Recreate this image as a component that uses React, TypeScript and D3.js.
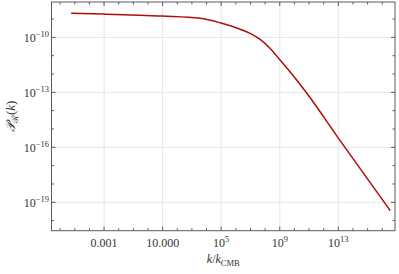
import { scaleLog, line, curveMonotoneX, range } from "d3";

// curve: k / k_CMB and P_R(k)
const kValues = [5.6e-6, 8.9e-4, 9.5, 3.6e3, 8.3e4, 6.8e5, 9.3e6, 4.6e7, 2.2e8, 1.05e9, 5.0e9, 7.1e10, 1.0e13, 3.5e16];
const pValues = [2.04e-9, 1.86e-9, 1.45e-9, 1.1e-9, 6.3e-10, 3.8e-10, 1.66e-10, 7.8e-11, 2.5e-11, 5.75e-12, 1.32e-12, 8.9e-14, 3.2e-16, 3.5e-20];

const xTickExps = [-3, 1, 5, 9, 13];
const xTickLabels = [
  { base: "0.001", sup: "" },
  { base: "10.000", sup: "" },
  { base: "10", sup: "5" },
  { base: "10", sup: "9" },
  { base: "10", sup: "13" },
];
const yTickExps = [-10, -13, -16, -19];

const W = 399;
const H = 274;
const margin = { left: 51.5, right: 4, top: 2, bottom: 43.3 };
const font = "'Liberation Serif', 'DejaVu Serif', serif";
const frameColor = "#5a5a5a";
const gridColor = "#e6e6e6";
const curveColor = "#b00c0c";

export default function App() {
  const x = scaleLog()
    .domain([Math.pow(10, -6.59), Math.pow(10, 16.87)])
    .range([margin.left, W - margin.right]);
  const y = scaleLog()
    .domain([Math.pow(10, -20.55), Math.pow(10, -8.07)])
    .range([H - margin.bottom, margin.top]);

  const pts = kValues.map((k, i) => [x(k), y(pValues[i])] as [number, number]);
  const path = line().curve(curveMonotoneX)(pts) ?? "";

  const x0 = margin.left;
  const x1 = W - margin.right;
  const y0 = margin.top;
  const y1 = H - margin.bottom;

  const xMinor = range(-6, 17).filter((e) => !xTickExps.includes(e));
  const yMinor = range(-20, -8).filter((e) => !yTickExps.includes(e));

  return (
    <svg
      width={W}
      height={H}
      style={{ position: "absolute", left: 0, top: 0, background: "#fff" }}
      fontFamily={font}
    >
      {/* grid */}
      {xTickExps.map((e) => (
        <line key={`gx${e}`} x1={x(10 ** e)} x2={x(10 ** e)} y1={y0} y2={y1} stroke={gridColor} strokeWidth={1} />
      ))}
      {yTickExps.map((e) => (
        <line key={`gy${e}`} x1={x0} x2={x1} y1={y(10 ** e)} y2={y(10 ** e)} stroke={gridColor} strokeWidth={1} />
      ))}

      {/* curve */}
      <path d={path} fill="none" stroke={curveColor} strokeWidth={1.5} />

      {/* frame */}
      <rect x={x0} y={y0} width={x1 - x0} height={y1 - y0} fill="none" stroke={frameColor} strokeWidth={1} />

      {/* ticks, pointing inward on all four sides */}
      {xTickExps.map((e) => (
        <g key={`tx${e}`} stroke={frameColor}>
          <line x1={x(10 ** e)} x2={x(10 ** e)} y1={y1} y2={y1 - 4} />
          <line x1={x(10 ** e)} x2={x(10 ** e)} y1={y0} y2={y0 + 4} />
        </g>
      ))}
      {xMinor.map((e) => (
        <g key={`mx${e}`} stroke={frameColor}>
          <line x1={x(10 ** e)} x2={x(10 ** e)} y1={y1} y2={y1 - 2.5} />
          <line x1={x(10 ** e)} x2={x(10 ** e)} y1={y0} y2={y0 + 2.5} />
        </g>
      ))}
      {yTickExps.map((e) => (
        <g key={`ty${e}`} stroke={frameColor}>
          <line x1={x0} x2={x0 + 4} y1={y(10 ** e)} y2={y(10 ** e)} />
          <line x1={x1} x2={x1 - 4} y1={y(10 ** e)} y2={y(10 ** e)} />
        </g>
      ))}
      {yMinor.map((e) => (
        <g key={`my${e}`} stroke={frameColor}>
          <line x1={x0} x2={x0 + 2.5} y1={y(10 ** e)} y2={y(10 ** e)} />
          <line x1={x1} x2={x1 - 2.5} y1={y(10 ** e)} y2={y(10 ** e)} />
        </g>
      ))}

      {/* x tick labels */}
      {xTickExps.map((e, i) => (
        <text key={`lx${e}`} x={x(10 ** e)} y={247} textAnchor="middle" fontSize={12} fill="#333">
          {xTickLabels[i].base}
          {xTickLabels[i].sup && (
            <tspan dy={-5} fontSize={8.5}>
              {xTickLabels[i].sup}
            </tspan>
          )}
        </text>
      ))}

      {/* y tick labels */}
      {yTickExps.map((e) => (
        <text key={`ly${e}`} x={49} y={y(10 ** e) + 4.5} textAnchor="end" fontSize={12} fill="#333">
          10
          <tspan dy={-5} fontSize={8.5}>
            {`\u2212${Math.abs(e)}`}
          </tspan>
        </text>
      ))}

      {/* axis titles */}
      <text x={(x0 + x1) / 2} y={263} textAnchor="middle" fontSize={12} fill="#333">
        <tspan fontStyle="italic">k</tspan>/<tspan fontStyle="italic">k</tspan>
        <tspan dy={2.5} fontSize={8.5}>CMB</tspan>
      </text>
      <text
        transform={`translate(15,${(y0 + y1) / 2}) rotate(-90)`}
        textAnchor="middle"
        fontSize={13}
        fill="#333"
      >
        <tspan fontStyle="italic">{"\u{1D4AB}"}</tspan>
        <tspan dy={3} fontSize={9}>{"\u211B"}</tspan>
        <tspan dy={-3}>(</tspan>
        <tspan fontStyle="italic">k</tspan>)
      </text>
    </svg>
  );
}
